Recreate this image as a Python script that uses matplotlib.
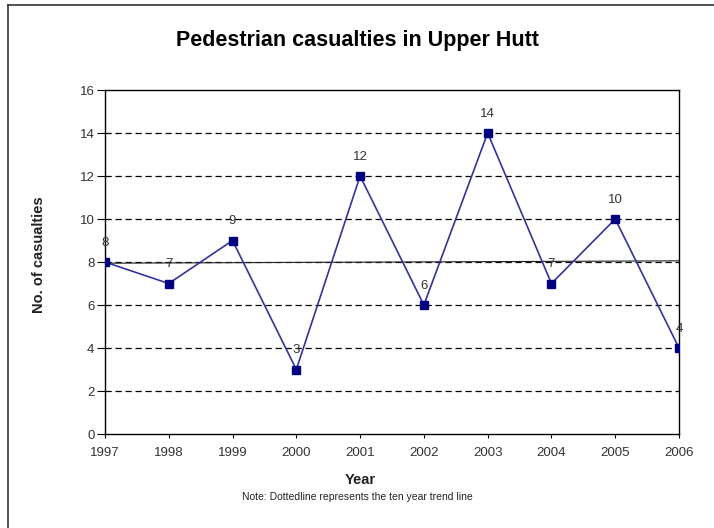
import numpy as np
import matplotlib.pyplot as plt
from matplotlib.lines import Line2D

years = [1997, 1998, 1999, 2000, 2001, 2002, 2003, 2004, 2005, 2006]
casualties = [8, 7, 9, 3, 12, 6, 14, 7, 10, 4]
y_ticks = [0, 2, 4, 6, 8, 10, 12, 14, 16]

plt.rcParams['font.family'] = ['Liberation Sans', 'DejaVu Sans']

fig = plt.figure(figsize=(7.14, 5.28), dpi=100)
ax = fig.add_axes([0.147, 0.178, 0.804, 0.6515])

# horizontal dashed gridlines
for t in y_ticks[1:-1]:
    ax.axhline(t, color='black', lw=0.9, ls=(0, (5, 3)), zorder=1)

# ten year trend line
slope, icpt = np.polyfit(years, casualties, 1)
trend = [slope * y + icpt for y in years]
ax.plot(years, trend, color='#222222', lw=0.8, zorder=2)

ax.plot(years, casualties, color='#33339a', lw=1.2, marker='s', ms=5.2,
        mfc='#000080', mec='#000080', zorder=3)

for x, v in zip(years, casualties):
    ax.annotate(str(v), (x, v), xytext=(0, 9.5), textcoords='offset points',
                ha='center', va='bottom', fontsize=9.5, color='#333333')

ax.set_xlim(years[0], years[-1])
ax.set_ylim(0, 16)
ax.set_xticks(years)
ax.set_yticks(y_ticks)
ax.tick_params(direction='out', width=0.8, labelsize=9.5, colors='black',
               labelcolor='#333333')
ax.tick_params(axis='x', length=3, pad=6)
ax.tick_params(axis='y', length=5.5, pad=2)
for s in ax.spines.values():
    s.set_linewidth(1.0)
    s.set_color('black')

fig.text(0.5, 0.924, 'Pedestrian casualties in Upper Hutt', ha='center', va='center',
         fontsize=15.5, fontweight='bold')
fig.text(0.0546, 0.517, 'No. of casualties', rotation=90, ha='center', va='center',
         fontsize=10.5, fontweight='bold', color='#222222')
fig.text(0.504, 0.091, 'Year', ha='center', va='center', fontsize=10.5,
         fontweight='bold', color='#222222')
fig.text(0.5, 0.059, 'Note: Dottedline represents the ten year trend line', ha='center',
         va='center', fontsize=7.5, color='#222222')

# outer frame (left and top only visible)
fig.add_artist(Line2D([0.0112, 0.0112], [0, 0.9905], color='#333333', lw=1.2,
                      transform=fig.transFigure))
fig.add_artist(Line2D([0.0112, 1.0], [0.9905, 0.9905], color='#333333', lw=1.2,
                      transform=fig.transFigure))

fig.savefig('out.png', dpi=100)
